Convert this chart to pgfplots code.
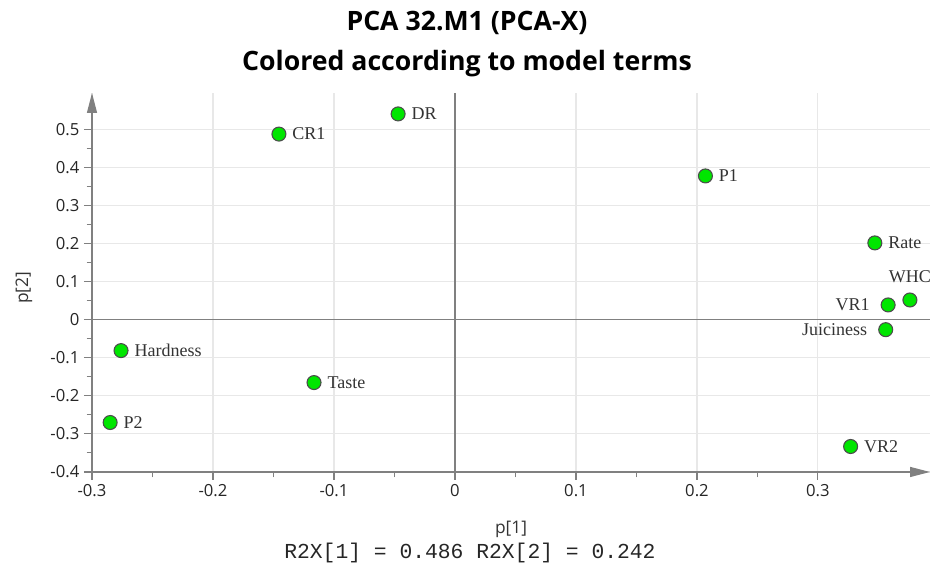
\documentclass[border=0pt]{standalone}
\usepackage{fontspec}
\setmainfont{Liberation Serif}
\newfontfamily\osans{Open Sans}
\newfontfamily\mono{Liberation Mono}
\usepackage{pgfplots}
\pgfplotsset{compat=1.18}
\usetikzlibrary{arrows.meta}
\definecolor{ptgreen}{RGB}{0,230,0}
\definecolor{axgray}{RGB}{128,128,128}
\begin{document}
\begin{tikzpicture}
\begin{axis}[name=ax, scale only axis, width=628.5pt, height=284.25pt,
  xmin=-0.3, xmax=0.3926, ymin=-0.4, ymax=0.596,
  axis lines=left,
  axis line style={axgray, line width=1pt, -{Triangle[length=15pt,width=7.5pt]}},
  xtick={-0.3,-0.2,-0.1,0,0.1,0.2,0.3},
  ytick={-0.4,-0.3,-0.2,-0.1,0,0.1,0.2,0.3,0.4,0.5},
  minor x tick num=1, minor y tick num=1,
  tick align=outside,
  major tick length=6pt, minor tick length=4pt,
  tick style={axgray, line width=0.8pt},
  grid=major, major grid style={gray!18, line width=0.8pt},
  /pgf/number format/assume math mode=true,
  /pgf/number format/fixed,
  ticklabel style={font=\osans\fontsize{12.5}{14}\selectfont, text=black!85},
  clip=false,
]
\draw[axgray, line width=1pt] (axis cs:0,-0.4) -- (axis cs:0,0.596);
\draw[axgray, line width=1pt] (axis cs:-0.3,0) -- (axis cs:0.3926,0);
\addplot[only marks, mark=*, mark size=5.25pt,
  mark options={fill=ptgreen, draw=black!70, line width=0.8pt},
  nodes near coords, point meta=explicit symbolic,
  visualization depends on={value \thisrow{anc}\as\myanc},
  visualization depends on={value \thisrow{dx}\as\mydx},
  visualization depends on={value \thisrow{dy}\as\mydy},
  every node near coord/.append style={anchor=\myanc, inner sep=0pt,
    xshift=\mydx pt, yshift=\mydy pt,
    font=\fontsize{13.5}{15}\selectfont, text=black!80}]
  table[meta=lab] {
x y lab anc dx dy
-0.1455 0.488 CR1 west 9.75 0
-0.047 0.541 DR west 9.75 0
0.207 0.378 P1 west 9.75 0
0.347 0.202 Rate west 9.75 0
0.376 0.052 WHC south 0 12.75
0.358 0.039 VR1 east -13.5 0
0.356 -0.026 Juiciness east -13.5 0
-0.276 -0.081 Hardness west 9.75 0
-0.1165 -0.165 Taste west 9.75 0
-0.285 -0.270 P2 west 9.75 0
0.327 -0.333 VR2 west 9.75 0
};
\node[font=\osans\fontsize{13}{15}\selectfont, text=black!80] at ([yshift=-42.75pt]axis cs:0.0463,-0.4) {p[1]};
\node[font=\mono\fontsize{16}{18}\selectfont, text=black!85] at ([xshift=11.25pt,yshift=-60.75pt]axis cs:0,-0.4) {R2X[1] = 0.486 R2X[2] = 0.242};
\node[font=\osans\fontsize{13}{15}\selectfont, text=black!80, rotate=90] at ([xshift=-51pt]axis cs:-0.3,0.084) {p[2]};
\end{axis}
\node[font=\osans\bfseries\fontsize{20}{24}\selectfont] at ([xshift=281.25pt,yshift=52.5pt]ax.north west) {PCA 32.M1 (PCA-X)};
\node[font=\osans\bfseries\fontsize{20}{24}\selectfont] at ([xshift=281.25pt,yshift=21.75pt]ax.north west) {Colored according to model terms};
\pgfresetboundingbox
\path[use as bounding box] ([xshift=-69pt,yshift=-74.25pt]ax.south west) rectangle ([xshift=3pt,yshift=69.75pt]ax.north east);
\end{tikzpicture}
\end{document}
